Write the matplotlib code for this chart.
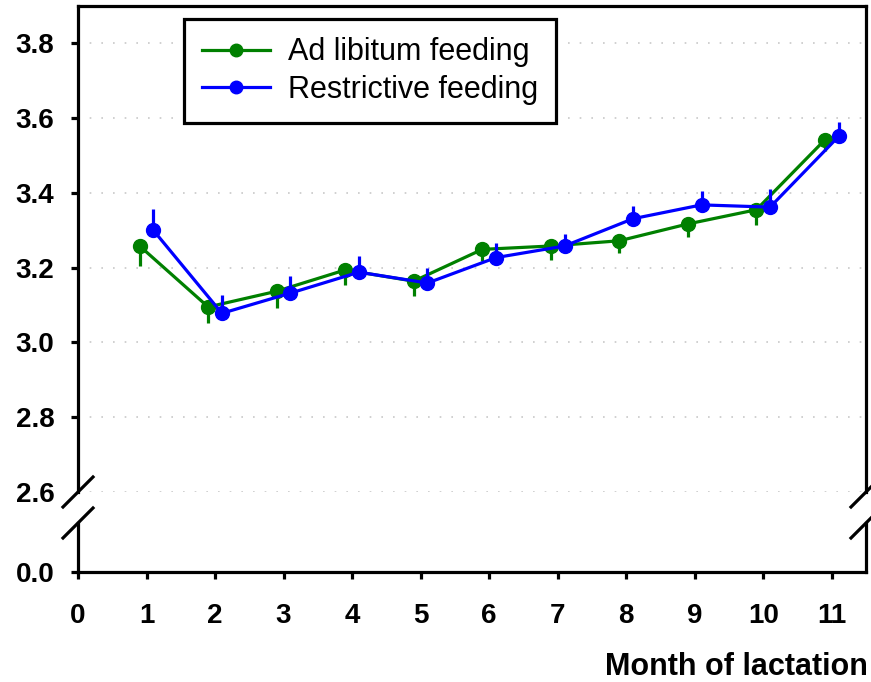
import numpy as np
import matplotlib
matplotlib.use("Agg")
import matplotlib.pyplot as plt
from matplotlib.lines import Line2D

plt.rcParams['font.family'] = ['Liberation Sans', 'DejaVu Sans']

# ---- data ----
months = np.arange(1, 12)
ad_lib = [3.258, 3.095, 3.137, 3.194, 3.164, 3.249, 3.258, 3.272, 3.317, 3.355, 3.542]
ad_lib_err = [0.053, 0.042, 0.045, 0.040, 0.040, 0.031, 0.037, 0.034, 0.036, 0.042, 0.030]
restrict = [3.300, 3.078, 3.132, 3.188, 3.159, 3.227, 3.258, 3.331, 3.368, 3.362, 3.551]
restrict_err = [0.056, 0.049, 0.046, 0.043, 0.040, 0.040, 0.032, 0.035, 0.037, 0.048, 0.040]
xticks = list(range(0, 12))
yticks_top = [2.6, 2.8, 3.0, 3.2, 3.4, 3.6, 3.8]

W, H = 871, 682
fig = plt.figure(figsize=(W / 100, H / 100), dpi=100)

# axes rectangles from pixel positions
x0, x1 = 78, 866
ax_top = fig.add_axes([x0 / W, 1 - 492 / H, (x1 - x0) / W, (492 - 6) / H])
ax_bot = fig.add_axes([x0 / W, 1 - 572 / H, (x1 - x0) / W, (572 - 523) / H])

green = '#008000'
blue = '#0000FF'
lw = 2.3
tfs = 20

for ax in (ax_top, ax_bot):
    ax.set_xlim(0, 11.5)
    for s in ax.spines.values():
        s.set_linewidth(lw)
    ax.tick_params(width=lw, length=5, labelsize=tfs)

# upper panel
ax_top.set_ylim(2.6, 3.9)
ax_top.spines['bottom'].set_visible(False)
ax_top.set_xticks([])
ax_top.set_yticks(yticks_top)
ax_top.set_yticklabels(['%.1f' % v for v in yticks_top], fontweight='bold', fontsize=tfs)
ax_top.yaxis.get_major_ticks()[0].tick1line.set_visible(False)
ax_top.tick_params(axis='y', pad=12)
for v in yticks_top:
    ax_top.axhline(v, color='#c8c8c8', lw=1.2, ls=(0, (1, 6)), zorder=0)

xa = months - 0.1
xb = months + 0.1
ax_top.errorbar(xa, ad_lib, yerr=[ad_lib_err, [0] * len(ad_lib_err)], color=green,
                lw=lw, marker='o', ms=10, elinewidth=lw, capsize=0, zorder=3)
ax_top.errorbar(xb, restrict, yerr=[[0] * len(restrict_err), restrict_err], color=blue,
                lw=lw, marker='o', ms=10, elinewidth=lw, capsize=0, zorder=4)

handles = [Line2D([], [], color=green, lw=lw, marker='o', ms=9),
           Line2D([], [], color=blue, lw=lw, marker='o', ms=9)]
leg = ax_top.legend(handles, ['Ad libitum feeding', 'Restrictive feeding'],
                    loc='upper left', bbox_to_anchor=(184 / W, 1 - 19 / H),
                    bbox_transform=fig.transFigure, borderaxespad=0, fontsize=22,
                    frameon=True, fancybox=False, edgecolor='black', framealpha=1,
                    handlelength=2.2, handletextpad=0.6, borderpad=0.6,
                    labelspacing=0.25)
leg.get_frame().set_linewidth(lw)

# lower panel
ax_bot.set_ylim(0, 0.13)
ax_bot.spines['top'].set_visible(False)
ax_bot.set_yticks([0.0])
ax_bot.set_yticklabels(['0.0'], fontweight='bold', fontsize=tfs)
ax_bot.set_xticks(xticks)
ax_bot.set_xticklabels([str(t) for t in xticks], fontweight='bold', fontsize=tfs)
ax_bot.tick_params(axis='x', pad=17.5)
ax_bot.tick_params(axis='y', pad=12)

# break marks
d = 15
for ypix in (492, 523):
    for xpix in (x0, x1):
        fig.add_artist(Line2D([(xpix - d) / W, (xpix + d) / W],
                              [1 - (ypix + d) / H, 1 - (ypix - d) / H],
                              color='black', lw=lw))

fig.text(868 / W, 1 - 675 / H, 'Month of lactation', ha='right', va='baseline',
         fontsize=22, fontweight='bold')

fig.savefig('out.png', dpi=100)
